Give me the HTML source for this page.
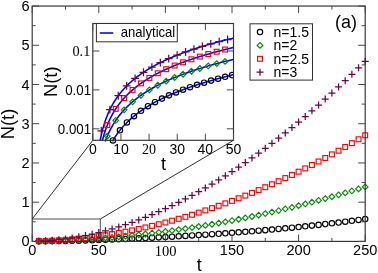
<!DOCTYPE html>
<html><head><meta charset="utf-8"><title>N(t)</title>
<style>html,body{margin:0;padding:0;background:#fff;}body{width:378px;height:273px;position:relative;overflow:hidden;font-family:"Liberation Sans",sans-serif;}</style>
</head><body>
<svg width="378" height="273" viewBox="0 0 378 273" style="position:absolute;left:0;top:0;will-change:transform" font-family="'Liberation Sans', sans-serif" fill="#000">
<rect x="0" y="0" width="378" height="273" fill="#fff"/>
<circle cx="38.86" cy="241.15" r="2.70" fill="none" stroke="#000000" stroke-width="1.15"/>
<circle cx="45.52" cy="241.15" r="2.70" fill="none" stroke="#000000" stroke-width="1.15"/>
<circle cx="52.18" cy="241.12" r="2.70" fill="none" stroke="#000000" stroke-width="1.15"/>
<circle cx="58.84" cy="241.06" r="2.70" fill="none" stroke="#000000" stroke-width="1.15"/>
<circle cx="65.50" cy="240.96" r="2.70" fill="none" stroke="#000000" stroke-width="1.15"/>
<circle cx="72.16" cy="240.82" r="2.70" fill="none" stroke="#000000" stroke-width="1.15"/>
<circle cx="78.82" cy="240.66" r="2.70" fill="none" stroke="#000000" stroke-width="1.15"/>
<circle cx="85.48" cy="240.47" r="2.70" fill="none" stroke="#000000" stroke-width="1.15"/>
<circle cx="92.14" cy="240.25" r="2.70" fill="none" stroke="#000000" stroke-width="1.15"/>
<circle cx="98.80" cy="240.02" r="2.70" fill="none" stroke="#000000" stroke-width="1.15"/>
<circle cx="105.46" cy="239.78" r="2.70" fill="none" stroke="#000000" stroke-width="1.15"/>
<circle cx="112.12" cy="239.52" r="2.70" fill="none" stroke="#000000" stroke-width="1.15"/>
<circle cx="118.78" cy="239.24" r="2.70" fill="none" stroke="#000000" stroke-width="1.15"/>
<circle cx="125.44" cy="238.96" r="2.70" fill="none" stroke="#000000" stroke-width="1.15"/>
<circle cx="132.10" cy="238.66" r="2.70" fill="none" stroke="#000000" stroke-width="1.15"/>
<circle cx="138.76" cy="238.35" r="2.70" fill="none" stroke="#000000" stroke-width="1.15"/>
<circle cx="145.42" cy="238.03" r="2.70" fill="none" stroke="#000000" stroke-width="1.15"/>
<circle cx="152.08" cy="237.71" r="2.70" fill="none" stroke="#000000" stroke-width="1.15"/>
<circle cx="158.74" cy="237.36" r="2.70" fill="none" stroke="#000000" stroke-width="1.15"/>
<circle cx="165.40" cy="237.01" r="2.70" fill="none" stroke="#000000" stroke-width="1.15"/>
<circle cx="172.06" cy="236.65" r="2.70" fill="none" stroke="#000000" stroke-width="1.15"/>
<circle cx="178.72" cy="236.27" r="2.70" fill="none" stroke="#000000" stroke-width="1.15"/>
<circle cx="185.38" cy="235.89" r="2.70" fill="none" stroke="#000000" stroke-width="1.15"/>
<circle cx="192.04" cy="235.49" r="2.70" fill="none" stroke="#000000" stroke-width="1.15"/>
<circle cx="198.70" cy="235.07" r="2.70" fill="none" stroke="#000000" stroke-width="1.15"/>
<circle cx="205.36" cy="234.65" r="2.70" fill="none" stroke="#000000" stroke-width="1.15"/>
<circle cx="212.02" cy="234.21" r="2.70" fill="none" stroke="#000000" stroke-width="1.15"/>
<circle cx="218.68" cy="233.76" r="2.70" fill="none" stroke="#000000" stroke-width="1.15"/>
<circle cx="225.34" cy="233.29" r="2.70" fill="none" stroke="#000000" stroke-width="1.15"/>
<circle cx="232.00" cy="232.80" r="2.70" fill="none" stroke="#000000" stroke-width="1.15"/>
<circle cx="238.66" cy="232.30" r="2.70" fill="none" stroke="#000000" stroke-width="1.15"/>
<circle cx="245.32" cy="231.79" r="2.70" fill="none" stroke="#000000" stroke-width="1.15"/>
<circle cx="251.98" cy="231.25" r="2.70" fill="none" stroke="#000000" stroke-width="1.15"/>
<circle cx="258.64" cy="230.70" r="2.70" fill="none" stroke="#000000" stroke-width="1.15"/>
<circle cx="265.30" cy="230.14" r="2.70" fill="none" stroke="#000000" stroke-width="1.15"/>
<circle cx="271.96" cy="229.55" r="2.70" fill="none" stroke="#000000" stroke-width="1.15"/>
<circle cx="278.62" cy="228.94" r="2.70" fill="none" stroke="#000000" stroke-width="1.15"/>
<circle cx="285.28" cy="228.32" r="2.70" fill="none" stroke="#000000" stroke-width="1.15"/>
<circle cx="291.94" cy="227.67" r="2.70" fill="none" stroke="#000000" stroke-width="1.15"/>
<circle cx="298.60" cy="227.01" r="2.70" fill="none" stroke="#000000" stroke-width="1.15"/>
<circle cx="305.26" cy="226.32" r="2.70" fill="none" stroke="#000000" stroke-width="1.15"/>
<circle cx="311.92" cy="225.61" r="2.70" fill="none" stroke="#000000" stroke-width="1.15"/>
<circle cx="318.58" cy="224.88" r="2.70" fill="none" stroke="#000000" stroke-width="1.15"/>
<circle cx="325.24" cy="224.12" r="2.70" fill="none" stroke="#000000" stroke-width="1.15"/>
<circle cx="331.90" cy="223.34" r="2.70" fill="none" stroke="#000000" stroke-width="1.15"/>
<circle cx="338.56" cy="222.53" r="2.70" fill="none" stroke="#000000" stroke-width="1.15"/>
<circle cx="345.22" cy="221.70" r="2.70" fill="none" stroke="#000000" stroke-width="1.15"/>
<circle cx="351.88" cy="220.84" r="2.70" fill="none" stroke="#000000" stroke-width="1.15"/>
<circle cx="358.54" cy="219.96" r="2.70" fill="none" stroke="#000000" stroke-width="1.15"/>
<circle cx="365.20" cy="219.05" r="2.70" fill="none" stroke="#000000" stroke-width="1.15"/>
<path d="M36.02 241.10L38.86 238.27L41.70 241.10L38.86 243.94Z" fill="none" stroke="#008b00" stroke-width="1.15"/>
<path d="M42.69 240.99L45.52 238.16L48.36 240.99L45.52 243.83Z" fill="none" stroke="#008b00" stroke-width="1.15"/>
<path d="M49.35 240.83L52.18 238.00L55.02 240.83L52.18 243.67Z" fill="none" stroke="#008b00" stroke-width="1.15"/>
<path d="M56.01 240.63L58.84 237.79L61.68 240.63L58.84 243.46Z" fill="none" stroke="#008b00" stroke-width="1.15"/>
<path d="M62.66 240.37L65.50 237.54L68.33 240.37L65.50 243.21Z" fill="none" stroke="#008b00" stroke-width="1.15"/>
<path d="M69.33 240.07L72.16 237.24L74.99 240.07L72.16 242.91Z" fill="none" stroke="#008b00" stroke-width="1.15"/>
<path d="M75.98 239.73L78.82 236.90L81.65 239.73L78.82 242.57Z" fill="none" stroke="#008b00" stroke-width="1.15"/>
<path d="M82.65 239.35L85.48 236.51L88.31 239.35L85.48 242.18Z" fill="none" stroke="#008b00" stroke-width="1.15"/>
<path d="M89.31 238.92L92.14 236.08L94.97 238.92L92.14 241.75Z" fill="none" stroke="#008b00" stroke-width="1.15"/>
<path d="M95.97 238.45L98.80 235.61L101.63 238.45L98.80 241.28Z" fill="none" stroke="#008b00" stroke-width="1.15"/>
<path d="M102.63 237.94L105.46 235.10L108.30 237.94L105.46 240.77Z" fill="none" stroke="#008b00" stroke-width="1.15"/>
<path d="M109.29 237.38L112.12 234.55L114.95 237.38L112.12 240.22Z" fill="none" stroke="#008b00" stroke-width="1.15"/>
<path d="M115.95 236.79L118.78 233.95L121.61 236.79L118.78 239.62Z" fill="none" stroke="#008b00" stroke-width="1.15"/>
<path d="M122.61 236.15L125.44 233.32L128.28 236.15L125.44 238.99Z" fill="none" stroke="#008b00" stroke-width="1.15"/>
<path d="M129.27 235.48L132.10 232.64L134.94 235.48L132.10 238.31Z" fill="none" stroke="#008b00" stroke-width="1.15"/>
<path d="M135.92 234.76L138.76 231.93L141.59 234.76L138.76 237.60Z" fill="none" stroke="#008b00" stroke-width="1.15"/>
<path d="M142.59 234.00L145.42 231.17L148.26 234.00L145.42 236.84Z" fill="none" stroke="#008b00" stroke-width="1.15"/>
<path d="M149.24 233.21L152.08 230.37L154.91 233.21L152.08 236.04Z" fill="none" stroke="#008b00" stroke-width="1.15"/>
<path d="M155.91 232.37L158.74 229.54L161.58 232.37L158.74 235.21Z" fill="none" stroke="#008b00" stroke-width="1.15"/>
<path d="M162.56 231.49L165.40 228.66L168.23 231.49L165.40 234.33Z" fill="none" stroke="#008b00" stroke-width="1.15"/>
<path d="M169.22 230.58L172.06 227.74L174.90 230.58L172.06 233.41Z" fill="none" stroke="#008b00" stroke-width="1.15"/>
<path d="M175.89 229.62L178.72 226.79L181.56 229.62L178.72 232.46Z" fill="none" stroke="#008b00" stroke-width="1.15"/>
<path d="M182.54 228.63L185.38 225.79L188.22 228.63L185.38 231.46Z" fill="none" stroke="#008b00" stroke-width="1.15"/>
<path d="M189.21 227.59L192.04 224.75L194.88 227.59L192.04 230.42Z" fill="none" stroke="#008b00" stroke-width="1.15"/>
<path d="M195.86 226.51L198.70 223.68L201.53 226.51L198.70 229.35Z" fill="none" stroke="#008b00" stroke-width="1.15"/>
<path d="M202.53 225.40L205.36 222.56L208.20 225.40L205.36 228.23Z" fill="none" stroke="#008b00" stroke-width="1.15"/>
<path d="M209.18 224.25L212.02 221.41L214.85 224.25L212.02 227.08Z" fill="none" stroke="#008b00" stroke-width="1.15"/>
<path d="M215.84 223.05L218.68 220.22L221.52 223.05L218.68 225.89Z" fill="none" stroke="#008b00" stroke-width="1.15"/>
<path d="M222.50 221.82L225.34 218.98L228.17 221.82L225.34 224.65Z" fill="none" stroke="#008b00" stroke-width="1.15"/>
<path d="M229.16 220.55L232.00 217.71L234.84 220.55L232.00 223.38Z" fill="none" stroke="#008b00" stroke-width="1.15"/>
<path d="M235.83 219.24L238.66 216.40L241.50 219.24L238.66 222.07Z" fill="none" stroke="#008b00" stroke-width="1.15"/>
<path d="M242.48 217.88L245.32 215.05L248.16 217.88L245.32 220.72Z" fill="none" stroke="#008b00" stroke-width="1.15"/>
<path d="M249.15 216.49L251.98 213.66L254.82 216.49L251.98 219.33Z" fill="none" stroke="#008b00" stroke-width="1.15"/>
<path d="M255.80 215.07L258.64 212.23L261.47 215.07L258.64 217.90Z" fill="none" stroke="#008b00" stroke-width="1.15"/>
<path d="M262.47 213.60L265.30 210.76L268.13 213.60L265.30 216.43Z" fill="none" stroke="#008b00" stroke-width="1.15"/>
<path d="M269.12 212.09L271.96 209.25L274.79 212.09L271.96 214.92Z" fill="none" stroke="#008b00" stroke-width="1.15"/>
<path d="M275.79 210.54L278.62 207.71L281.45 210.54L278.62 213.38Z" fill="none" stroke="#008b00" stroke-width="1.15"/>
<path d="M282.45 208.96L285.28 206.12L288.12 208.96L285.28 211.79Z" fill="none" stroke="#008b00" stroke-width="1.15"/>
<path d="M289.11 207.33L291.94 204.50L294.77 207.33L291.94 210.17Z" fill="none" stroke="#008b00" stroke-width="1.15"/>
<path d="M295.76 205.67L298.60 202.83L301.43 205.67L298.60 208.50Z" fill="none" stroke="#008b00" stroke-width="1.15"/>
<path d="M302.43 203.97L305.26 201.13L308.09 203.97L305.26 206.80Z" fill="none" stroke="#008b00" stroke-width="1.15"/>
<path d="M309.09 202.22L311.92 199.39L314.75 202.22L311.92 205.06Z" fill="none" stroke="#008b00" stroke-width="1.15"/>
<path d="M315.75 200.44L318.58 197.61L321.41 200.44L318.58 203.28Z" fill="none" stroke="#008b00" stroke-width="1.15"/>
<path d="M322.41 198.62L325.24 195.79L328.07 198.62L325.24 201.46Z" fill="none" stroke="#008b00" stroke-width="1.15"/>
<path d="M329.06 196.76L331.90 193.93L334.73 196.76L331.90 199.60Z" fill="none" stroke="#008b00" stroke-width="1.15"/>
<path d="M335.73 194.86L338.56 192.03L341.39 194.86L338.56 197.70Z" fill="none" stroke="#008b00" stroke-width="1.15"/>
<path d="M342.38 192.93L345.22 190.09L348.05 192.93L345.22 195.76Z" fill="none" stroke="#008b00" stroke-width="1.15"/>
<path d="M349.05 190.95L351.88 188.12L354.71 190.95L351.88 193.79Z" fill="none" stroke="#008b00" stroke-width="1.15"/>
<path d="M355.70 188.94L358.54 186.10L361.37 188.94L358.54 191.77Z" fill="none" stroke="#008b00" stroke-width="1.15"/>
<path d="M362.37 186.88L365.20 184.05L368.03 186.88L365.20 189.72Z" fill="none" stroke="#008b00" stroke-width="1.15"/>
<rect x="36.43" y="238.66" width="4.86" height="4.86" fill="none" stroke="#ff0000" stroke-width="1.15"/>
<rect x="43.09" y="238.50" width="4.86" height="4.86" fill="none" stroke="#ff0000" stroke-width="1.15"/>
<rect x="49.75" y="238.23" width="4.86" height="4.86" fill="none" stroke="#ff0000" stroke-width="1.15"/>
<rect x="56.41" y="237.86" width="4.86" height="4.86" fill="none" stroke="#ff0000" stroke-width="1.15"/>
<rect x="63.07" y="237.40" width="4.86" height="4.86" fill="none" stroke="#ff0000" stroke-width="1.15"/>
<rect x="69.73" y="236.85" width="4.86" height="4.86" fill="none" stroke="#ff0000" stroke-width="1.15"/>
<rect x="76.39" y="236.21" width="4.86" height="4.86" fill="none" stroke="#ff0000" stroke-width="1.15"/>
<rect x="83.05" y="235.48" width="4.86" height="4.86" fill="none" stroke="#ff0000" stroke-width="1.15"/>
<rect x="89.71" y="234.65" width="4.86" height="4.86" fill="none" stroke="#ff0000" stroke-width="1.15"/>
<rect x="96.37" y="233.75" width="4.86" height="4.86" fill="none" stroke="#ff0000" stroke-width="1.15"/>
<rect x="103.03" y="232.75" width="4.86" height="4.86" fill="none" stroke="#ff0000" stroke-width="1.15"/>
<rect x="109.69" y="231.67" width="4.86" height="4.86" fill="none" stroke="#ff0000" stroke-width="1.15"/>
<rect x="116.35" y="230.51" width="4.86" height="4.86" fill="none" stroke="#ff0000" stroke-width="1.15"/>
<rect x="123.01" y="229.26" width="4.86" height="4.86" fill="none" stroke="#ff0000" stroke-width="1.15"/>
<rect x="129.67" y="227.93" width="4.86" height="4.86" fill="none" stroke="#ff0000" stroke-width="1.15"/>
<rect x="136.33" y="226.52" width="4.86" height="4.86" fill="none" stroke="#ff0000" stroke-width="1.15"/>
<rect x="142.99" y="225.02" width="4.86" height="4.86" fill="none" stroke="#ff0000" stroke-width="1.15"/>
<rect x="149.65" y="223.45" width="4.86" height="4.86" fill="none" stroke="#ff0000" stroke-width="1.15"/>
<rect x="156.31" y="221.79" width="4.86" height="4.86" fill="none" stroke="#ff0000" stroke-width="1.15"/>
<rect x="162.97" y="220.06" width="4.86" height="4.86" fill="none" stroke="#ff0000" stroke-width="1.15"/>
<rect x="169.63" y="218.24" width="4.86" height="4.86" fill="none" stroke="#ff0000" stroke-width="1.15"/>
<rect x="176.29" y="216.35" width="4.86" height="4.86" fill="none" stroke="#ff0000" stroke-width="1.15"/>
<rect x="182.95" y="214.38" width="4.86" height="4.86" fill="none" stroke="#ff0000" stroke-width="1.15"/>
<rect x="189.61" y="212.33" width="4.86" height="4.86" fill="none" stroke="#ff0000" stroke-width="1.15"/>
<rect x="196.27" y="210.20" width="4.86" height="4.86" fill="none" stroke="#ff0000" stroke-width="1.15"/>
<rect x="202.93" y="208.00" width="4.86" height="4.86" fill="none" stroke="#ff0000" stroke-width="1.15"/>
<rect x="209.59" y="205.72" width="4.86" height="4.86" fill="none" stroke="#ff0000" stroke-width="1.15"/>
<rect x="216.25" y="203.36" width="4.86" height="4.86" fill="none" stroke="#ff0000" stroke-width="1.15"/>
<rect x="222.91" y="200.93" width="4.86" height="4.86" fill="none" stroke="#ff0000" stroke-width="1.15"/>
<rect x="229.57" y="198.42" width="4.86" height="4.86" fill="none" stroke="#ff0000" stroke-width="1.15"/>
<rect x="236.23" y="195.84" width="4.86" height="4.86" fill="none" stroke="#ff0000" stroke-width="1.15"/>
<rect x="242.89" y="193.18" width="4.86" height="4.86" fill="none" stroke="#ff0000" stroke-width="1.15"/>
<rect x="249.55" y="190.45" width="4.86" height="4.86" fill="none" stroke="#ff0000" stroke-width="1.15"/>
<rect x="256.21" y="187.65" width="4.86" height="4.86" fill="none" stroke="#ff0000" stroke-width="1.15"/>
<rect x="262.87" y="184.77" width="4.86" height="4.86" fill="none" stroke="#ff0000" stroke-width="1.15"/>
<rect x="269.53" y="181.81" width="4.86" height="4.86" fill="none" stroke="#ff0000" stroke-width="1.15"/>
<rect x="276.19" y="178.78" width="4.86" height="4.86" fill="none" stroke="#ff0000" stroke-width="1.15"/>
<rect x="282.85" y="175.68" width="4.86" height="4.86" fill="none" stroke="#ff0000" stroke-width="1.15"/>
<rect x="289.51" y="172.51" width="4.86" height="4.86" fill="none" stroke="#ff0000" stroke-width="1.15"/>
<rect x="296.17" y="169.26" width="4.86" height="4.86" fill="none" stroke="#ff0000" stroke-width="1.15"/>
<rect x="302.83" y="165.95" width="4.86" height="4.86" fill="none" stroke="#ff0000" stroke-width="1.15"/>
<rect x="309.49" y="162.56" width="4.86" height="4.86" fill="none" stroke="#ff0000" stroke-width="1.15"/>
<rect x="316.15" y="159.09" width="4.86" height="4.86" fill="none" stroke="#ff0000" stroke-width="1.15"/>
<rect x="322.81" y="155.56" width="4.86" height="4.86" fill="none" stroke="#ff0000" stroke-width="1.15"/>
<rect x="329.47" y="151.96" width="4.86" height="4.86" fill="none" stroke="#ff0000" stroke-width="1.15"/>
<rect x="336.13" y="148.28" width="4.86" height="4.86" fill="none" stroke="#ff0000" stroke-width="1.15"/>
<rect x="342.79" y="144.53" width="4.86" height="4.86" fill="none" stroke="#ff0000" stroke-width="1.15"/>
<rect x="349.45" y="140.72" width="4.86" height="4.86" fill="none" stroke="#ff0000" stroke-width="1.15"/>
<rect x="356.11" y="136.83" width="4.86" height="4.86" fill="none" stroke="#ff0000" stroke-width="1.15"/>
<rect x="362.77" y="132.87" width="4.86" height="4.86" fill="none" stroke="#ff0000" stroke-width="1.15"/>
<path d="M35.36 241.07H42.36M38.86 237.57V244.57" fill="none" stroke="#67074a" stroke-width="1.25"/>
<path d="M42.02 240.80H49.02M45.52 237.30V244.30" fill="none" stroke="#67074a" stroke-width="1.25"/>
<path d="M48.68 240.35H55.68M52.18 236.85V243.85" fill="none" stroke="#67074a" stroke-width="1.25"/>
<path d="M55.34 239.73H62.34M58.84 236.23V243.23" fill="none" stroke="#67074a" stroke-width="1.25"/>
<path d="M62.00 238.94H69.00M65.50 235.44V242.44" fill="none" stroke="#67074a" stroke-width="1.25"/>
<path d="M68.66 237.98H75.66M72.16 234.48V241.48" fill="none" stroke="#67074a" stroke-width="1.25"/>
<path d="M75.32 236.87H82.32M78.82 233.37V240.37" fill="none" stroke="#67074a" stroke-width="1.25"/>
<path d="M81.98 235.59H88.98M85.48 232.09V239.09" fill="none" stroke="#67074a" stroke-width="1.25"/>
<path d="M88.64 234.15H95.64M92.14 230.65V237.65" fill="none" stroke="#67074a" stroke-width="1.25"/>
<path d="M95.30 232.57H102.30M98.80 229.07V236.07" fill="none" stroke="#67074a" stroke-width="1.25"/>
<path d="M101.96 230.83H108.96M105.46 227.33V234.33" fill="none" stroke="#67074a" stroke-width="1.25"/>
<path d="M108.62 228.94H115.62M112.12 225.44V232.44" fill="none" stroke="#67074a" stroke-width="1.25"/>
<path d="M115.28 226.91H122.28M118.78 223.41V230.41" fill="none" stroke="#67074a" stroke-width="1.25"/>
<path d="M121.94 224.73H128.94M125.44 221.23V228.23" fill="none" stroke="#67074a" stroke-width="1.25"/>
<path d="M128.60 222.41H135.60M132.10 218.91V225.91" fill="none" stroke="#67074a" stroke-width="1.25"/>
<path d="M135.26 219.95H142.26M138.76 216.45V223.45" fill="none" stroke="#67074a" stroke-width="1.25"/>
<path d="M141.92 217.35H148.92M145.42 213.85V220.85" fill="none" stroke="#67074a" stroke-width="1.25"/>
<path d="M148.58 214.62H155.58M152.08 211.12V218.12" fill="none" stroke="#67074a" stroke-width="1.25"/>
<path d="M155.24 211.74H162.24M158.74 208.24V215.24" fill="none" stroke="#67074a" stroke-width="1.25"/>
<path d="M161.90 208.74H168.90M165.40 205.24V212.24" fill="none" stroke="#67074a" stroke-width="1.25"/>
<path d="M168.56 205.60H175.56M172.06 202.10V209.10" fill="none" stroke="#67074a" stroke-width="1.25"/>
<path d="M175.22 202.32H182.22M178.72 198.82V205.82" fill="none" stroke="#67074a" stroke-width="1.25"/>
<path d="M181.88 198.92H188.88M185.38 195.42V202.42" fill="none" stroke="#67074a" stroke-width="1.25"/>
<path d="M188.54 195.39H195.54M192.04 191.89V198.89" fill="none" stroke="#67074a" stroke-width="1.25"/>
<path d="M195.20 191.73H202.20M198.70 188.23V195.23" fill="none" stroke="#67074a" stroke-width="1.25"/>
<path d="M201.86 187.94H208.86M205.36 184.44V191.44" fill="none" stroke="#67074a" stroke-width="1.25"/>
<path d="M208.52 184.02H215.52M212.02 180.52V187.52" fill="none" stroke="#67074a" stroke-width="1.25"/>
<path d="M215.18 179.99H222.18M218.68 176.49V183.49" fill="none" stroke="#67074a" stroke-width="1.25"/>
<path d="M221.84 175.82H228.84M225.34 172.32V179.32" fill="none" stroke="#67074a" stroke-width="1.25"/>
<path d="M228.50 171.54H235.50M232.00 168.04V175.04" fill="none" stroke="#67074a" stroke-width="1.25"/>
<path d="M235.16 167.13H242.16M238.66 163.63V170.63" fill="none" stroke="#67074a" stroke-width="1.25"/>
<path d="M241.82 162.60H248.82M245.32 159.10V166.10" fill="none" stroke="#67074a" stroke-width="1.25"/>
<path d="M248.48 157.95H255.48M251.98 154.45V161.45" fill="none" stroke="#67074a" stroke-width="1.25"/>
<path d="M255.14 153.18H262.14M258.64 149.68V156.68" fill="none" stroke="#67074a" stroke-width="1.25"/>
<path d="M261.80 148.30H268.80M265.30 144.80V151.80" fill="none" stroke="#67074a" stroke-width="1.25"/>
<path d="M268.46 143.29H275.46M271.96 139.79V146.79" fill="none" stroke="#67074a" stroke-width="1.25"/>
<path d="M275.12 138.17H282.12M278.62 134.67V141.67" fill="none" stroke="#67074a" stroke-width="1.25"/>
<path d="M281.78 132.93H288.78M285.28 129.43V136.43" fill="none" stroke="#67074a" stroke-width="1.25"/>
<path d="M288.44 127.58H295.44M291.94 124.08V131.08" fill="none" stroke="#67074a" stroke-width="1.25"/>
<path d="M295.10 122.11H302.10M298.60 118.61V125.61" fill="none" stroke="#67074a" stroke-width="1.25"/>
<path d="M301.76 116.53H308.76M305.26 113.03V120.03" fill="none" stroke="#67074a" stroke-width="1.25"/>
<path d="M308.42 110.83H315.42M311.92 107.33V114.33" fill="none" stroke="#67074a" stroke-width="1.25"/>
<path d="M315.08 105.02H322.08M318.58 101.52V108.52" fill="none" stroke="#67074a" stroke-width="1.25"/>
<path d="M321.74 99.10H328.74M325.24 95.60V102.60" fill="none" stroke="#67074a" stroke-width="1.25"/>
<path d="M328.40 93.07H335.40M331.90 89.57V96.57" fill="none" stroke="#67074a" stroke-width="1.25"/>
<path d="M335.06 86.93H342.06M338.56 83.43V90.43" fill="none" stroke="#67074a" stroke-width="1.25"/>
<path d="M341.72 80.68H348.72M345.22 77.18V84.18" fill="none" stroke="#67074a" stroke-width="1.25"/>
<path d="M348.38 74.32H355.38M351.88 70.82V77.82" fill="none" stroke="#67074a" stroke-width="1.25"/>
<path d="M355.04 67.85H362.04M358.54 64.35V71.35" fill="none" stroke="#67074a" stroke-width="1.25"/>
<path d="M361.70 61.27H368.70M365.20 57.77V64.77" fill="none" stroke="#67074a" stroke-width="1.25"/>
<path d="M32.2 219.0H100.3V241.4" fill="none" stroke="#303030" stroke-width="0.85"/>
<path d="M32.2 219.0L92.8 140.3M100.3 219.0L233.5 140.3" fill="none" stroke="#303030" stroke-width="1"/>
<rect x="32.2" y="6.05" width="333.00" height="235.35" fill="none" stroke="#303030" stroke-width="1.15"/>
<path d="M32.20 241.4v-7.0M32.20 6.05v7.0M65.50 241.4v-3.5M65.50 6.05v3.5M98.80 241.4v-7.0M98.80 6.05v7.0M132.10 241.4v-3.5M132.10 6.05v3.5M165.40 241.4v-7.0M165.40 6.05v7.0M198.70 241.4v-3.5M198.70 6.05v3.5M232.00 241.4v-7.0M232.00 6.05v7.0M265.30 241.4v-3.5M265.30 6.05v3.5M298.60 241.4v-7.0M298.60 6.05v7.0M331.90 241.4v-3.5M331.90 6.05v3.5M365.20 241.4v-7.0M365.20 6.05v7.0M32.2 241.40h7.0M365.2 241.40h-7.0M32.2 221.79h3.5M365.2 221.79h-3.5M32.2 202.18h7.0M365.2 202.18h-7.0M32.2 182.56h3.5M365.2 182.56h-3.5M32.2 162.95h7.0M365.2 162.95h-7.0M32.2 143.34h3.5M365.2 143.34h-3.5M32.2 123.73h7.0M365.2 123.73h-7.0M32.2 104.11h3.5M365.2 104.11h-3.5M32.2 84.50h7.0M365.2 84.50h-7.0M32.2 64.89h3.5M365.2 64.89h-3.5M32.2 45.28h7.0M365.2 45.28h-7.0M32.2 25.66h3.5M365.2 25.66h-3.5M32.2 6.05h7.0M365.2 6.05h-7.0" fill="none" stroke="#484848" stroke-width="1.0"/>
<text transform="translate(29.6 246.40) scale(0.94 1)" font-size="15.5" text-anchor="end">0</text>
<text transform="translate(29.6 207.18) scale(0.94 1)" font-size="15.5" text-anchor="end">1</text>
<text transform="translate(29.6 167.95) scale(0.94 1)" font-size="15.5" text-anchor="end">2</text>
<text transform="translate(29.6 128.73) scale(0.94 1)" font-size="15.5" text-anchor="end">3</text>
<text transform="translate(29.6 89.50) scale(0.94 1)" font-size="15.5" text-anchor="end">4</text>
<text transform="translate(29.6 50.28) scale(0.94 1)" font-size="15.5" text-anchor="end">5</text>
<text transform="translate(29.6 11.05) scale(0.94 1)" font-size="15.5" text-anchor="end">6</text>
<text transform="translate(32.20 255.4) scale(0.94 1)" font-size="15.5" text-anchor="middle">0</text>
<text transform="translate(98.80 255.4) scale(0.94 1)" font-size="15.5" text-anchor="middle">50</text>
<text x="165.70" y="255.5" font-size="14.5" text-anchor="middle" font-family="'Liberation Serif', serif">100</text>
<text transform="translate(232.00 255.4) scale(0.94 1)" font-size="15.5" text-anchor="middle">150</text>
<text transform="translate(298.60 255.4) scale(0.94 1)" font-size="15.5" text-anchor="middle">200</text>
<text transform="translate(365.20 255.4) scale(0.94 1)" font-size="15.5" text-anchor="middle">250</text>
<text x="199.2" y="271.3" font-size="18" text-anchor="middle">t</text>
<text transform="translate(13.8 124.0) rotate(-90)" font-size="18.4" text-anchor="middle">N(t)</text>
<text x="335.0" y="28.0" font-size="18">(a)</text>
<rect x="250" y="23.8" width="62.5" height="56.3" fill="#fff" stroke="#303030" stroke-width="1"/>
<circle cx="260.00" cy="32.00" r="2.70" fill="none" stroke="#000000" stroke-width="1.15"/>
<text transform="translate(273.6 36.80) scale(0.965 1)" font-size="14.5">n=1.5</text>
<path d="M257.17 45.40L260.00 42.56L262.83 45.40L260.00 48.23Z" fill="none" stroke="#008b00" stroke-width="1.15"/>
<text transform="translate(273.6 50.20) scale(0.965 1)" font-size="14.5">n=2</text>
<rect x="257.57" y="56.37" width="4.86" height="4.86" fill="none" stroke="#ff0000" stroke-width="1.15"/>
<text transform="translate(273.6 63.60) scale(0.965 1)" font-size="14.5">n=2.5</text>
<path d="M256.50 72.20H263.50M260.00 68.70V75.70" fill="none" stroke="#67074a" stroke-width="1.25"/>
<text transform="translate(273.6 77.00) scale(0.965 1)" font-size="14.5">n=3</text>
<rect x="92.8" y="23.5" width="140.70" height="116.80" fill="#fff" stroke="none"/>
<clipPath id="ic"><rect x="92.8" y="23.5" width="140.70" height="120.80"/></clipPath>
<g clip-path="url(#ic)">
<path d="M112.46 141.30L112.77 140.76L113.09 140.22L113.40 139.69L113.72 139.17L114.03 138.66L114.35 138.16L114.66 137.66L114.98 137.17L115.29 136.69L115.61 136.21L115.92 135.74L116.24 135.28L116.55 134.82L116.87 134.37L117.18 133.93L117.50 133.49L117.81 133.06L118.13 132.63L118.44 132.21L118.76 131.80L119.07 131.38L119.39 130.98L119.70 130.58L120.02 130.18L120.33 129.79L120.65 129.40L120.96 129.02L121.28 128.64L121.59 128.27L121.91 127.90L122.22 127.53L122.54 127.17L122.85 126.81L123.17 126.45L123.48 126.10L123.80 125.76L124.11 125.41L124.43 125.07L124.74 124.74L125.06 124.40L125.37 124.07L125.69 123.75L126.00 123.42L126.32 123.10L126.63 122.79L126.95 122.47L127.79 121.65L128.76 120.71L129.74 119.81L130.71 118.93L131.69 118.07L132.66 117.23L133.64 116.41L134.61 115.61L135.59 114.83L136.56 114.07L137.54 113.33L138.51 112.60L139.49 111.88L140.46 111.19L141.44 110.50L142.41 109.83L143.39 109.17L144.36 108.53L145.34 107.90L146.31 107.28L147.29 106.67L148.26 106.07L149.24 105.48L150.21 104.90L151.19 104.34L152.16 103.78L153.14 103.23L154.11 102.69L155.09 102.16L156.06 101.63L157.04 101.12L158.01 100.61L158.99 100.11L159.96 99.62L160.94 99.13L161.91 98.66L162.89 98.18L163.86 97.72L164.84 97.26L165.81 96.81L166.79 96.36L167.76 95.92L168.74 95.49L169.71 95.06L170.69 94.63L171.66 94.22L172.64 93.80L173.61 93.39L174.59 92.99L175.56 92.59L176.54 92.20L177.51 91.81L178.49 91.42L179.46 91.04L180.44 90.67L181.41 90.30L182.39 89.93L183.36 89.56L184.34 89.20L185.31 88.85L186.29 88.50L187.26 88.15L188.24 87.80L189.21 87.46L190.19 87.12L191.16 86.79L192.14 86.46L193.11 86.13L194.09 85.80L195.06 85.48L196.04 85.16L197.01 84.85L197.99 84.54L198.96 84.23L199.94 83.92L200.91 83.61L201.89 83.31L202.86 83.01L203.84 82.72L204.81 82.42L205.79 82.13L206.76 81.85L207.74 81.56L208.71 81.28L209.69 80.99L210.66 80.72L211.64 80.44L212.61 80.16L213.59 79.89L214.56 79.62L215.54 79.36L216.51 79.09L217.49 78.83L218.46 78.57L219.44 78.31L220.41 78.05L221.39 77.79L222.36 77.54L223.34 77.29L224.31 77.04L225.29 76.79L226.26 76.54L227.24 76.30L228.21 76.06L229.19 75.82L230.16 75.58L231.14 75.34L232.11 75.11L233.09 74.87L234.06 74.64" fill="none" stroke="#0000ff" stroke-width="1.55"/>
<path d="M105.21 141.58L105.52 140.71L105.84 139.86L106.15 139.03L106.47 138.22L106.78 137.43L107.10 136.66L107.41 135.91L107.73 135.18L108.04 134.46L108.36 133.75L108.67 133.06L108.99 132.38L109.30 131.72L109.62 131.07L109.93 130.43L110.25 129.81L110.57 129.19L110.88 128.59L111.20 128.00L111.51 127.42L111.83 126.84L112.14 126.28L112.46 125.73L112.77 125.18L113.09 124.65L113.40 124.12L113.72 123.60L114.03 123.09L114.35 122.59L114.66 122.09L114.98 121.61L115.29 121.12L115.61 120.65L115.92 120.18L116.24 119.72L116.55 119.27L116.87 118.82L117.18 118.37L117.50 117.94L117.81 117.51L118.13 117.08L118.44 116.66L118.76 116.24L119.07 115.83L119.39 115.43L119.70 115.03L120.02 114.63L120.33 114.24L120.65 113.86L120.96 113.47L121.28 113.10L121.59 112.72L121.91 112.35L122.22 111.99L122.54 111.63L122.85 111.27L123.17 110.92L123.48 110.57L123.80 110.22L124.11 109.88L124.43 109.54L124.74 109.20L125.06 108.87L125.37 108.54L125.69 108.21L126.00 107.89L126.32 107.57L126.63 107.26L126.95 106.94L127.79 106.12L128.76 105.19L129.74 104.28L130.71 103.40L131.69 102.55L132.66 101.71L133.64 100.89L134.61 100.10L135.59 99.32L136.56 98.56L137.54 97.82L138.51 97.09L139.49 96.38L140.46 95.68L141.44 95.00L142.41 94.33L143.39 93.67L144.36 93.03L145.34 92.40L146.31 91.78L147.29 91.17L148.26 90.58L149.24 89.99L150.21 89.42L151.19 88.85L152.16 88.29L153.14 87.74L154.11 87.21L155.09 86.67L156.06 86.15L157.04 85.64L158.01 85.13L158.99 84.63L159.96 84.14L160.94 83.66L161.91 83.18L162.89 82.71L163.86 82.25L164.84 81.79L165.81 81.34L166.79 80.89L167.76 80.45L168.74 80.02L169.71 79.59L170.69 79.17L171.66 78.75L172.64 78.34L173.61 77.93L174.59 77.53L175.56 77.13L176.54 76.74L177.51 76.35L178.49 75.97L179.46 75.59L180.44 75.21L181.41 74.84L182.39 74.47L183.36 74.11L184.34 73.75L185.31 73.40L186.29 73.04L187.26 72.70L188.24 72.35L189.21 72.01L190.19 71.67L191.16 71.34L192.14 71.01L193.11 70.68L194.09 70.36L195.06 70.04L196.04 69.72L197.01 69.40L197.99 69.09L198.96 68.78L199.94 68.48L200.91 68.17L201.89 67.87L202.86 67.57L203.84 67.28L204.81 66.99L205.79 66.70L206.76 66.41L207.74 66.12L208.71 65.84L209.69 65.56L210.66 65.28L211.64 65.01L212.61 64.73L213.59 64.46L214.56 64.19L215.54 63.92L216.51 63.66L217.49 63.40L218.46 63.14L219.44 62.88L220.41 62.62L221.39 62.37L222.36 62.11L223.34 61.86L224.31 61.61L225.29 61.37L226.26 61.12L227.24 60.88L228.21 60.63L229.19 60.39L230.16 60.16L231.14 59.92L232.11 59.68L233.09 59.45L234.06 59.22" fill="none" stroke="#0000ff" stroke-width="1.55"/>
<path d="M102.37 140.61L102.69 139.37L103.00 138.18L103.32 137.03L103.63 135.92L103.95 134.85L104.26 133.80L104.58 132.80L104.89 131.82L105.21 130.87L105.52 129.94L105.84 129.04L106.15 128.17L106.47 127.32L106.78 126.49L107.10 125.68L107.41 124.88L107.73 124.11L108.04 123.36L108.36 122.62L108.67 121.90L108.99 121.19L109.30 120.50L109.62 119.82L109.93 119.16L110.25 118.51L110.57 117.87L110.88 117.25L111.20 116.63L111.51 116.03L111.83 115.44L112.14 114.86L112.46 114.29L112.77 113.73L113.09 113.17L113.40 112.63L113.72 112.10L114.03 111.57L114.35 111.05L114.66 110.54L114.98 110.04L115.29 109.55L115.61 109.06L115.92 108.58L116.24 108.11L116.55 107.64L116.87 107.18L117.18 106.73L117.50 106.28L117.81 105.84L118.13 105.41L118.44 104.98L118.76 104.55L119.07 104.14L119.39 103.72L119.70 103.31L120.02 102.91L120.33 102.51L120.65 102.12L120.96 101.73L121.28 101.34L121.59 100.96L121.91 100.59L122.22 100.22L122.54 99.85L122.85 99.49L123.17 99.13L123.48 98.77L123.80 98.42L124.11 98.07L124.43 97.73L124.74 97.39L125.06 97.05L125.37 96.72L125.69 96.39L126.00 96.06L126.32 95.74L126.63 95.42L126.95 95.10L127.79 94.26L128.76 93.32L129.74 92.41L130.71 91.52L131.69 90.65L132.66 89.81L133.64 88.99L134.61 88.18L135.59 87.40L136.56 86.64L137.54 85.89L138.51 85.16L139.49 84.44L140.46 83.74L141.44 83.06L142.41 82.38L143.39 81.73L144.36 81.08L145.34 80.45L146.31 79.83L147.29 79.22L148.26 78.62L149.24 78.03L150.21 77.45L151.19 76.89L152.16 76.33L153.14 75.78L154.11 75.24L155.09 74.71L156.06 74.19L157.04 73.67L158.01 73.17L158.99 72.67L159.96 72.18L160.94 71.69L161.91 71.21L162.89 70.74L163.86 70.28L164.84 69.82L165.81 69.37L166.79 68.93L167.76 68.49L168.74 68.06L169.71 67.63L170.69 67.21L171.66 66.79L172.64 66.38L173.61 65.97L174.59 65.57L175.56 65.17L176.54 64.78L177.51 64.40L178.49 64.01L179.46 63.63L180.44 63.26L181.41 62.89L182.39 62.52L183.36 62.16L184.34 61.81L185.31 61.45L186.29 61.10L187.26 60.75L188.24 60.41L189.21 60.07L190.19 59.74L191.16 59.40L192.14 59.08L193.11 58.75L194.09 58.43L195.06 58.11L196.04 57.79L197.01 57.48L197.99 57.17L198.96 56.86L199.94 56.55L200.91 56.25L201.89 55.95L202.86 55.66L203.84 55.36L204.81 55.07L205.79 54.78L206.76 54.50L207.74 54.21L208.71 53.93L209.69 53.65L210.66 53.38L211.64 53.10L212.61 52.83L213.59 52.56L214.56 52.29L215.54 52.03L216.51 51.76L217.49 51.50L218.46 51.24L219.44 50.99L220.41 50.73L221.39 50.48L222.36 50.23L223.34 49.98L224.31 49.73L225.29 49.48L226.26 49.24L227.24 49.00L228.21 48.76L229.19 48.52L230.16 48.28L231.14 48.05L232.11 47.81L233.09 47.58L234.06 47.35" fill="none" stroke="#0000ff" stroke-width="1.55"/>
<path d="M100.17 140.44L100.48 138.83L100.80 137.29L101.11 135.82L101.43 134.42L101.74 133.07L102.06 131.77L102.37 130.53L102.69 129.33L103.00 128.17L103.32 127.05L103.63 125.96L103.95 124.92L104.26 123.90L104.58 122.91L104.89 121.96L105.21 121.03L105.52 120.12L105.84 119.24L106.15 118.38L106.47 117.55L106.78 116.73L107.10 115.93L107.41 115.16L107.73 114.40L108.04 113.66L108.36 112.93L108.67 112.22L108.99 111.52L109.30 110.84L109.62 110.17L109.93 109.52L110.25 108.88L110.57 108.25L110.88 107.63L111.20 107.03L111.51 106.43L111.83 105.85L112.14 105.27L112.46 104.71L112.77 104.15L113.09 103.61L113.40 103.07L113.72 102.54L114.03 102.02L114.35 101.51L114.66 101.00L114.98 100.51L115.29 100.02L115.61 99.53L115.92 99.06L116.24 98.59L116.55 98.13L116.87 97.67L117.18 97.22L117.50 96.78L117.81 96.34L118.13 95.91L118.44 95.48L118.76 95.06L119.07 94.65L119.39 94.24L119.70 93.83L120.02 93.43L120.33 93.04L120.65 92.64L120.96 92.26L121.28 91.88L121.59 91.50L121.91 91.12L122.22 90.76L122.54 90.39L122.85 90.03L123.17 89.67L123.48 89.32L123.80 88.97L124.11 88.62L124.43 88.28L124.74 87.94L125.06 87.61L125.37 87.27L125.69 86.95L126.00 86.62L126.32 86.30L126.63 85.98L126.95 85.66L127.79 84.83L128.76 83.90L129.74 82.99L130.71 82.10L131.69 81.24L132.66 80.40L133.64 79.58L134.61 78.78L135.59 77.99L136.56 77.23L137.54 76.49L138.51 75.76L139.49 75.04L140.46 74.34L141.44 73.66L142.41 72.99L143.39 72.33L144.36 71.69L145.34 71.06L146.31 70.44L147.29 69.83L148.26 69.23L149.24 68.64L150.21 68.07L151.19 67.50L152.16 66.94L153.14 66.39L154.11 65.85L155.09 65.32L156.06 64.80L157.04 64.29L158.01 63.78L158.99 63.28L159.96 62.79L160.94 62.31L161.91 61.83L162.89 61.36L163.86 60.90L164.84 60.44L165.81 59.99L166.79 59.54L167.76 59.11L168.74 58.67L169.71 58.24L170.69 57.82L171.66 57.41L172.64 56.99L173.61 56.59L174.59 56.19L175.56 55.79L176.54 55.40L177.51 55.01L178.49 54.63L179.46 54.25L180.44 53.87L181.41 53.50L182.39 53.14L183.36 52.78L184.34 52.42L185.31 52.06L186.29 51.71L187.26 51.37L188.24 51.02L189.21 50.68L190.19 50.35L191.16 50.01L192.14 49.69L193.11 49.36L194.09 49.04L195.06 48.72L196.04 48.40L197.01 48.09L197.99 47.77L198.96 47.47L199.94 47.16L200.91 46.86L201.89 46.56L202.86 46.26L203.84 45.97L204.81 45.68L205.79 45.39L206.76 45.10L207.74 44.82L208.71 44.53L209.69 44.26L210.66 43.98L211.64 43.70L212.61 43.43L213.59 43.16L214.56 42.89L215.54 42.63L216.51 42.36L217.49 42.10L218.46 41.84L219.44 41.58L220.41 41.33L221.39 41.08L222.36 40.82L223.34 40.57L224.31 40.33L225.29 40.08L226.26 39.84L227.24 39.59L228.21 39.35L229.19 39.11L230.16 38.88L231.14 38.64L232.11 38.41L233.09 38.17L234.06 37.94" fill="none" stroke="#0000ff" stroke-width="1.55"/>
<circle cx="112.93" cy="140.49" r="2.70" fill="none" stroke="#000000" stroke-width="1.15"/>
<circle cx="119.94" cy="130.28" r="2.70" fill="none" stroke="#000000" stroke-width="1.15"/>
<circle cx="126.95" cy="122.47" r="2.70" fill="none" stroke="#000000" stroke-width="1.15"/>
<circle cx="133.96" cy="116.15" r="2.70" fill="none" stroke="#000000" stroke-width="1.15"/>
<circle cx="140.97" cy="110.83" r="2.70" fill="none" stroke="#000000" stroke-width="1.15"/>
<circle cx="147.98" cy="106.24" r="2.70" fill="none" stroke="#000000" stroke-width="1.15"/>
<circle cx="154.99" cy="102.21" r="2.70" fill="none" stroke="#000000" stroke-width="1.15"/>
<circle cx="162.00" cy="98.62" r="2.70" fill="none" stroke="#000000" stroke-width="1.15"/>
<circle cx="169.01" cy="95.37" r="2.70" fill="none" stroke="#000000" stroke-width="1.15"/>
<circle cx="176.02" cy="92.41" r="2.70" fill="none" stroke="#000000" stroke-width="1.15"/>
<circle cx="183.03" cy="89.69" r="2.70" fill="none" stroke="#000000" stroke-width="1.15"/>
<circle cx="190.04" cy="87.17" r="2.70" fill="none" stroke="#000000" stroke-width="1.15"/>
<circle cx="197.05" cy="84.84" r="2.70" fill="none" stroke="#000000" stroke-width="1.15"/>
<circle cx="204.06" cy="82.65" r="2.70" fill="none" stroke="#000000" stroke-width="1.15"/>
<circle cx="211.07" cy="80.60" r="2.70" fill="none" stroke="#000000" stroke-width="1.15"/>
<circle cx="218.08" cy="78.67" r="2.70" fill="none" stroke="#000000" stroke-width="1.15"/>
<circle cx="225.09" cy="76.84" r="2.70" fill="none" stroke="#000000" stroke-width="1.15"/>
<circle cx="232.10" cy="75.11" r="2.70" fill="none" stroke="#000000" stroke-width="1.15"/>
<path d="M104.48 136.14L107.32 133.30L110.15 136.14L107.32 138.97Z" fill="none" stroke="#008b00" stroke-width="1.15"/>
<path d="M112.90 120.46L115.73 117.63L118.57 120.46L115.73 123.30Z" fill="none" stroke="#008b00" stroke-width="1.15"/>
<path d="M121.31 109.84L124.14 107.01L126.98 109.84L124.14 112.68Z" fill="none" stroke="#008b00" stroke-width="1.15"/>
<path d="M129.72 101.80L132.56 98.97L135.39 101.80L132.56 104.64Z" fill="none" stroke="#008b00" stroke-width="1.15"/>
<path d="M138.13 95.33L140.97 92.49L143.80 95.33L140.97 98.16Z" fill="none" stroke="#008b00" stroke-width="1.15"/>
<path d="M146.54 89.91L149.38 87.07L152.22 89.91L149.38 92.74Z" fill="none" stroke="#008b00" stroke-width="1.15"/>
<path d="M154.96 85.25L157.79 82.41L160.63 85.25L157.79 88.08Z" fill="none" stroke="#008b00" stroke-width="1.15"/>
<path d="M163.37 81.16L166.20 78.32L169.04 81.16L166.20 83.99Z" fill="none" stroke="#008b00" stroke-width="1.15"/>
<path d="M171.78 77.52L174.62 74.68L177.45 77.52L174.62 80.35Z" fill="none" stroke="#008b00" stroke-width="1.15"/>
<path d="M180.19 74.23L183.03 71.40L185.86 74.23L183.03 77.07Z" fill="none" stroke="#008b00" stroke-width="1.15"/>
<path d="M188.60 71.25L191.44 68.41L194.28 71.25L191.44 74.08Z" fill="none" stroke="#008b00" stroke-width="1.15"/>
<path d="M197.02 68.50L199.85 65.67L202.69 68.50L199.85 71.34Z" fill="none" stroke="#008b00" stroke-width="1.15"/>
<path d="M205.43 65.97L208.26 63.13L211.10 65.97L208.26 68.80Z" fill="none" stroke="#008b00" stroke-width="1.15"/>
<path d="M213.84 63.61L216.68 60.78L219.51 63.61L216.68 66.45Z" fill="none" stroke="#008b00" stroke-width="1.15"/>
<path d="M222.25 61.42L225.09 58.58L227.92 61.42L225.09 64.25Z" fill="none" stroke="#008b00" stroke-width="1.15"/>
<rect x="104.89" y="122.69" width="4.86" height="4.86" fill="none" stroke="#ff0000" stroke-width="1.15"/>
<rect x="113.30" y="106.44" width="4.86" height="4.86" fill="none" stroke="#ff0000" stroke-width="1.15"/>
<rect x="121.71" y="95.61" width="4.86" height="4.86" fill="none" stroke="#ff0000" stroke-width="1.15"/>
<rect x="130.13" y="87.47" width="4.86" height="4.86" fill="none" stroke="#ff0000" stroke-width="1.15"/>
<rect x="138.54" y="80.95" width="4.86" height="4.86" fill="none" stroke="#ff0000" stroke-width="1.15"/>
<rect x="146.95" y="75.52" width="4.86" height="4.86" fill="none" stroke="#ff0000" stroke-width="1.15"/>
<rect x="155.36" y="70.85" width="4.86" height="4.86" fill="none" stroke="#ff0000" stroke-width="1.15"/>
<rect x="163.77" y="66.76" width="4.86" height="4.86" fill="none" stroke="#ff0000" stroke-width="1.15"/>
<rect x="172.19" y="63.13" width="4.86" height="4.86" fill="none" stroke="#ff0000" stroke-width="1.15"/>
<rect x="180.60" y="59.86" width="4.86" height="4.86" fill="none" stroke="#ff0000" stroke-width="1.15"/>
<rect x="189.01" y="56.88" width="4.86" height="4.86" fill="none" stroke="#ff0000" stroke-width="1.15"/>
<rect x="197.42" y="54.15" width="4.86" height="4.86" fill="none" stroke="#ff0000" stroke-width="1.15"/>
<rect x="205.83" y="51.63" width="4.86" height="4.86" fill="none" stroke="#ff0000" stroke-width="1.15"/>
<rect x="214.25" y="49.29" width="4.86" height="4.86" fill="none" stroke="#ff0000" stroke-width="1.15"/>
<rect x="222.66" y="47.10" width="4.86" height="4.86" fill="none" stroke="#ff0000" stroke-width="1.15"/>
<path d="M97.40 130.90H105.20M101.30 127.00V134.80" fill="none" stroke="#67074a" stroke-width="1.25"/>
<path d="M105.94 109.71H113.74M109.84 105.81V113.61" fill="none" stroke="#67074a" stroke-width="1.25"/>
<path d="M114.36 95.73H122.16M118.26 91.83V99.63" fill="none" stroke="#67074a" stroke-width="1.25"/>
<path d="M122.77 85.94H130.57M126.67 82.04V89.84" fill="none" stroke="#67074a" stroke-width="1.25"/>
<path d="M131.18 78.40H138.98M135.08 74.50V82.30" fill="none" stroke="#67074a" stroke-width="1.25"/>
<path d="M139.59 72.26H147.39M143.49 68.36V76.16" fill="none" stroke="#67074a" stroke-width="1.25"/>
<path d="M148.00 67.09H155.80M151.90 63.19V70.99" fill="none" stroke="#67074a" stroke-width="1.25"/>
<path d="M156.42 62.62H164.22M160.32 58.72V66.52" fill="none" stroke="#67074a" stroke-width="1.25"/>
<path d="M164.83 58.68H172.63M168.73 54.78V62.58" fill="none" stroke="#67074a" stroke-width="1.25"/>
<path d="M173.24 55.16H181.04M177.14 51.26V59.06" fill="none" stroke="#67074a" stroke-width="1.25"/>
<path d="M181.65 51.98H189.45M185.55 48.08V55.88" fill="none" stroke="#67074a" stroke-width="1.25"/>
<path d="M190.06 49.08H197.86M193.96 45.18V52.98" fill="none" stroke="#67074a" stroke-width="1.25"/>
<path d="M198.48 46.41H206.28M202.38 42.51V50.31" fill="none" stroke="#67074a" stroke-width="1.25"/>
<path d="M206.89 43.94H214.69M210.79 40.04V47.84" fill="none" stroke="#67074a" stroke-width="1.25"/>
<path d="M215.30 41.65H223.10M219.20 37.75V45.55" fill="none" stroke="#67074a" stroke-width="1.25"/>
<path d="M223.71 39.50H231.51M227.61 35.60V43.40" fill="none" stroke="#67074a" stroke-width="1.25"/>
</g>
<rect x="92.8" y="23.5" width="140.70" height="116.80" fill="none" stroke="#303030" stroke-width="1.15"/>
<path d="M92.80 140.3v-6.6M92.80 23.5v6.6M120.94 140.3v-6.6M120.94 23.5v6.6M149.08 140.3v-6.6M149.08 23.5v6.6M177.22 140.3v-6.6M177.22 23.5v6.6M205.36 140.3v-6.6M205.36 23.5v6.6M233.50 140.3v-6.6M233.50 23.5v6.6M92.8 128.80h6.6M233.5 128.80h-6.6M92.8 89.90h6.6M233.5 89.90h-6.6M92.8 51.00h6.6M233.5 51.00h-6.6" fill="none" stroke="#484848" stroke-width="1.0"/>
<text x="92.80" y="154.0" font-size="14" text-anchor="middle">0</text>
<text x="120.94" y="154.0" font-size="14" text-anchor="middle">10</text>
<text x="149.08" y="154.0" font-size="14" font-family="'Liberation Serif', serif" text-anchor="middle">20</text>
<text x="177.22" y="154.0" font-size="14" text-anchor="middle">30</text>
<text x="205.36" y="154.0" font-size="14" text-anchor="middle">40</text>
<text x="233.50" y="154.0" font-size="14" text-anchor="middle">50</text>
<text x="90.3" y="56.00" font-size="14.3" font-family="'Liberation Serif', serif" text-anchor="end">0.1</text>
<text transform="translate(91.1 95.40) scale(0.95 1)" font-size="14" text-anchor="end">0.01</text>
<text transform="translate(91.1 134.30) scale(0.95 1)" font-size="14" text-anchor="end">0.001</text>
<text x="163.6" y="170.2" font-size="18" text-anchor="middle">t</text>
<text transform="translate(57.0 81.8) rotate(-90)" font-size="18.4" text-anchor="middle">N(t)</text>
<rect x="96.4" y="23.5" width="80.9" height="18.3" fill="#fff" stroke="#303030" stroke-width="1"/>
<path d="M99.8 33H113.3" stroke="#0000ff" stroke-width="1.55"/>
<text x="120.7" y="36.9" font-size="14.4" textLength="54.6" lengthAdjust="spacingAndGlyphs">analytical</text>
</svg>
</body></html>
